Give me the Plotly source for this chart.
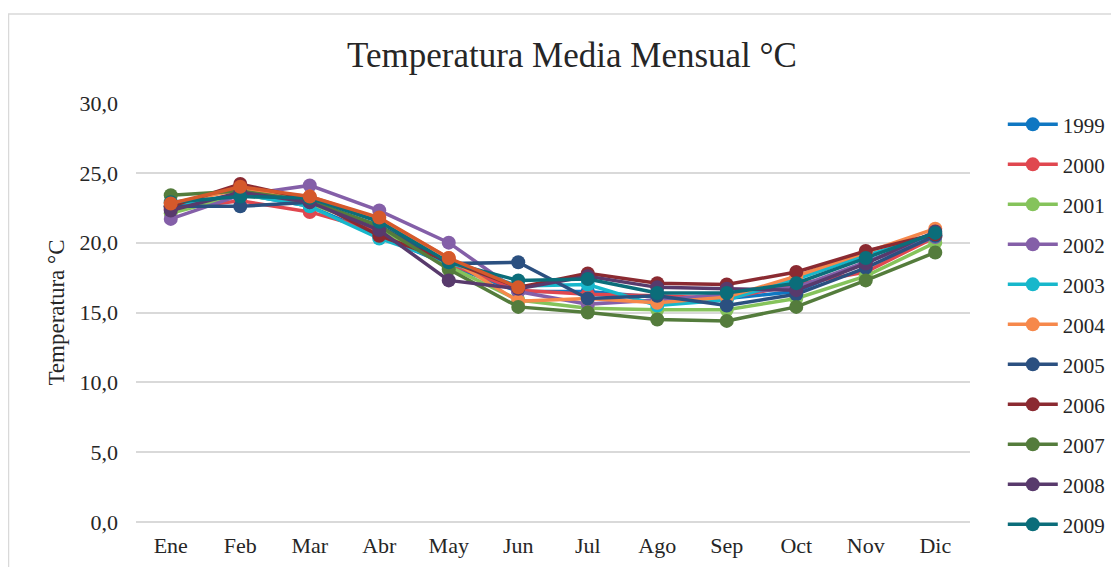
import plotly.graph_objects as go

months = ["Ene", "Feb", "Mar", "Abr", "May", "Jun", "Jul", "Ago", "Sep", "Oct", "Nov", "Dic"]

y1999 = [22.5, 23.5, 22.6, 20.5, 18.4, 16.5, 16.5, 16.1, 16.0, 16.5, 18.6, 20.5]
y2000 = [22.4, 23.0, 22.2, 20.8, 18.5, 16.6, 16.3, 16.2, 16.0, 17.0, 17.9, 20.4]
y2001 = [22.1, 23.4, 22.8, 21.0, 18.3, 15.9, 15.3, 15.2, 15.2, 16.0, 17.6, 20.0]
y2002 = [21.7, 23.4, 24.1, 22.3, 20.0, 16.5, 15.6, 15.9, 16.3, 16.8, 18.6, 20.4]
y2003 = [22.6, 23.5, 22.6, 20.3, 18.6, 16.9, 17.0, 15.5, 15.9, 17.4, 19.1, 20.5]
y2004 = [22.8, 23.8, 23.3, 21.7, 18.9, 15.8, 16.0, 15.7, 16.1, 17.6, 19.3, 21.0]
y2005 = [22.6, 22.6, 22.9, 21.2, 18.5, 18.6, 16.0, 16.2, 15.5, 16.3, 18.2, 20.5]
y2006 = [22.6, 24.2, 23.1, 20.5, 18.7, 16.8, 17.8, 17.1, 17.0, 17.9, 19.4, 20.6]
y2007 = [23.4, 23.7, 23.0, 21.2, 18.1, 15.4, 15.0, 14.5, 14.4, 15.4, 17.3, 19.3]
y2008 = [22.3, 23.6, 22.9, 20.9, 17.3, 16.7, 17.6, 16.8, 16.7, 16.6, 18.5, 20.8]
y2009 = [22.9, 23.3, 23.2, 21.5, 18.6, 17.3, 17.4, 16.4, 16.4, 17.1, 18.9, 20.7]
y2010 = [22.8, 24.0, 23.3, 21.8, 18.9, 16.8]

series = [
    ("1999", y1999, "#0F77C2"),
    ("2000", y2000, "#E0474F"),
    ("2001", y2001, "#85C35B"),
    ("2002", y2002, "#845FA8"),
    ("2003", y2003, "#17B7CB"),
    ("2004", y2004, "#F6884B"),
    ("2005", y2005, "#2B5080"),
    ("2006", y2006, "#8B2A31"),
    ("2007", y2007, "#547C3C"),
    ("2008", y2008, "#583A6C"),
    ("2009", y2009, "#0B6D7A"),
    ("2010", y2010, "#D5592B"),
]

fig = go.Figure()
for name, vals, col in series:
    fig.add_trace(go.Scatter(
        x=months[:len(vals)], y=vals, name=name, mode="lines+markers",
        line=dict(color=col, width=3.5),
        marker=dict(color=col, size=14),
        legendgroup=name,
        showlegend=(name != "2010"),
    ))

fig.update_layout(
    width=1119, height=567,
    paper_bgcolor="white", plot_bgcolor="white",
    margin=dict(l=128, r=157, t=95, b=53),
    separators=",.",
    font=dict(family="Liberation Serif, Times New Roman, serif", color="#262626", size=21),
    title=dict(text="Temperatura Media Mensual °C", x=0.504, xanchor="center",
               xref="container", yref="container", y=0.917, yanchor="middle",
               font=dict(size=35, color="#262626")),
    xaxis=dict(showgrid=False, showline=False, ticks="", tickfont=dict(size=22),
               range=[-0.5, 11.5], ticklabelstandoff=8),
    yaxis=dict(range=[0, 30], dtick=5, tickformat=".1f", showgrid=True, gridcolor="#D9D9D9",
               gridwidth=1.5, zeroline=True, zerolinecolor="#D9D9D9", zerolinewidth=1.5,
               tickfont=dict(size=22), ticklabelstandoff=17,
               title=dict(text="Temperatura °C", font=dict(size=23), standoff=8)),
    legend=dict(xref="container", yref="container", x=0.889, y=0.8303,
                xanchor="left", yanchor="top", font=dict(size=21), maxheight=1,
                itemwidth=50, tracegroupgap=9.7, bgcolor="rgba(0,0,0,0)"),
    shapes=[dict(type="rect", xref="paper", yref="paper", x0=-0.1529, x1=1.3, y0=-0.3, y1=1.2124,
                 line=dict(color="#D9D9D9", width=1.5), fillcolor="rgba(0,0,0,0)", layer="below")],
)

fig.write_html("out.html")
